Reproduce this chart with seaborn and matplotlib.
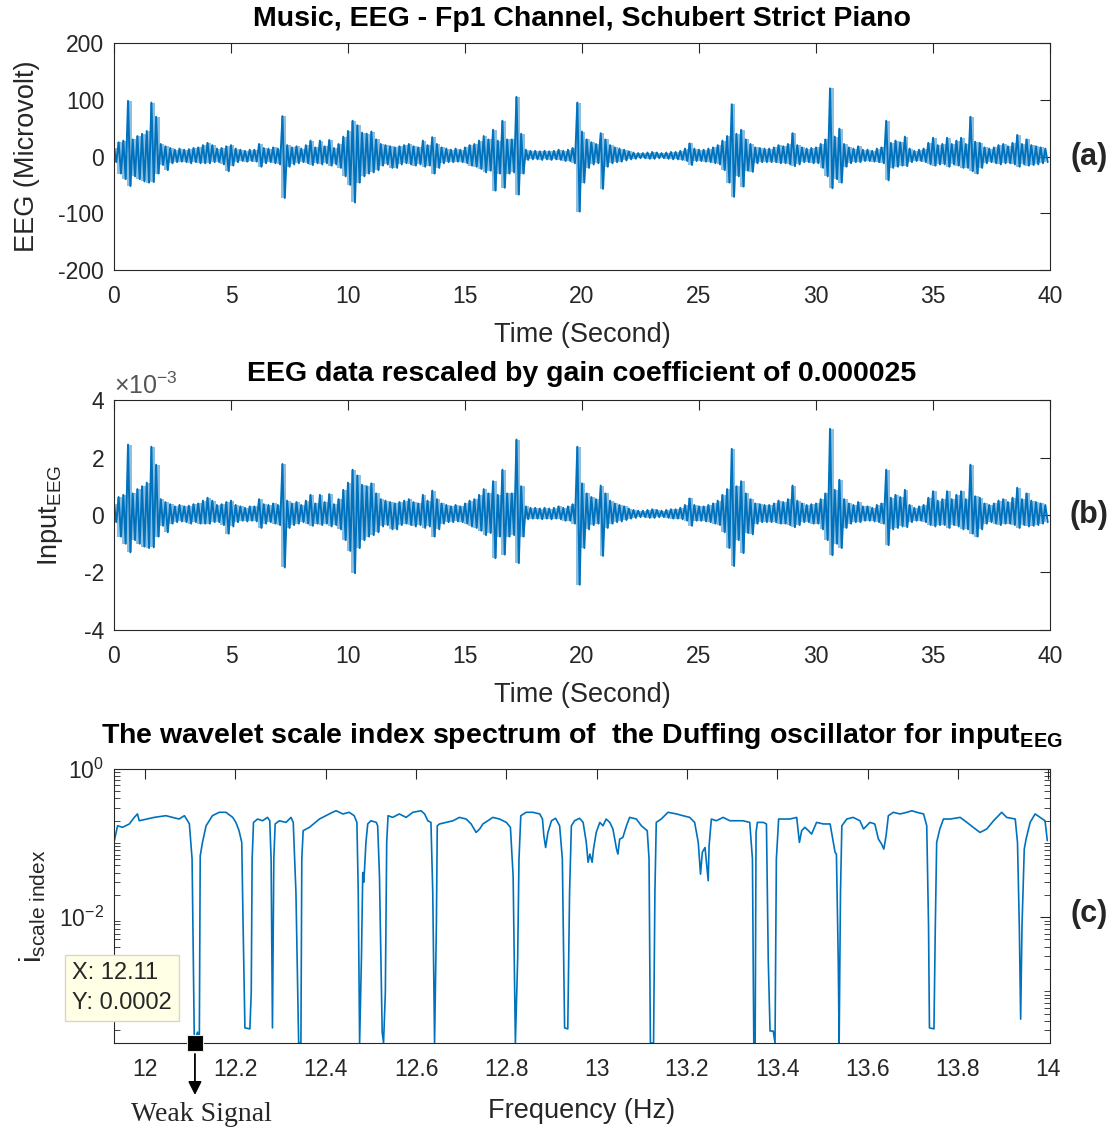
import numpy as np
import pandas as pd
import matplotlib
matplotlib.use("Agg")
import matplotlib.pyplot as plt
import matplotlib.ticker as mticker
import seaborn as sns

# EEG envelope (Fp1, Microvolt), one value per 0.2 s bin: upper and lower excursion
eeg_hi = [15, 25, 28, 98, 30, 36, 40, 45, 95, 70,
          22, 18, 15, 12, 14, 12, 13, 15, 16, 20,
          24, 20, 14, 15, 18, 20, 14, 12, 10, 12,
          12, 22, 15, 14, 16, 14, 71, 20, 16, 18,
          14, 20, 28, 16, 28, 18, 29, 15, 22, 35,
          45, 63, 55, 42, 40, 44, 30, 22, 20, 18,
          16, 18, 20, 22, 18, 16, 28, 20, 34, 22,
          16, 14, 12, 14, 12, 16, 20, 22, 28, 36,
          30, 47, 28, 63, 30, 30, 105, 40, 12, 10,
          10, 9, 10, 9, 10, 12, 10, 12, 15, 95,
          44, 30, 25, 22, 41, 30, 20, 16, 14, 12,
          9, 7, 6, 6, 7, 8, 7, 6, 7, 8,
          8, 10, 14, 23, 14, 12, 12, 14, 16, 20,
          28, 36, 92, 40, 47, 30, 22, 16, 15, 14,
          14, 16, 20, 18, 22, 41, 20, 16, 14, 15,
          16, 22, 30, 120, 35, 49, 22, 16, 14, 18,
          12, 12, 10, 14, 16, 63, 24, 28, 25, 35,
          14, 10, 12, 14, 24, 33, 20, 22, 33, 22,
          28, 33, 22, 70, 26, 24, 16, 14, 16, 20,
          22, 18, 24, 38, 22, 30, 20, 18, 16, 14]
eeg_lo = [-10, -30, -40, -52, -35, -40, -44, -46, -45, -30,
          -15, -24, -12, -10, -9, -10, -12, -10, -12, -12,
          -12, -10, -10, -14, -26, -16, -10, -8, -9, -8,
          -9, -18, -12, -10, -12, -14, -73, -18, -14, -12,
          -10, -12, -15, -12, -14, -12, -16, -14, -20, -35,
          -50, -81, -46, -35, -30, -28, -24, -16, -14, -20,
          -20, -14, -12, -14, -16, -14, -18, -16, -30, -20,
          -12, -10, -10, -9, -10, -12, -16, -18, -22, -28,
          -25, -60, -30, -55, -30, -28, -67, -30, -6, -5,
          -5, -6, -5, -6, -5, -6, -8, -8, -12, -97,
          -46, -20, -14, -12, -57, -18, -12, -10, -9, -7,
          -5, -4, -3, -3, -4, -4, -3, -3, -4, -5,
          -5, -6, -8, -15, -8, -8, -9, -10, -12, -14,
          -24, -46, -71, -35, -53, -25, -27, -12, -10, -10,
          -10, -10, -12, -12, -14, -17, -14, -10, -10, -12,
          -12, -20, -35, -56, -40, -46, -18, -12, -10, -10,
          -8, -8, -9, -10, -12, -42, -20, -18, -16, -17,
          -10, -8, -8, -10, -14, -16, -14, -14, -18, -14,
          -16, -20, -20, -26, -30, -20, -12, -10, -12, -14,
          -12, -12, -14, -18, -14, -16, -15, -14, -12, -10]
bin_sec = 0.2
gain = 0.000025

# wavelet scale index spectrum of the Duffing oscillator
wsi_freq = [11.931, 11.939, 11.950, 11.965, 11.976, 11.983, 11.987, 12.020, 12.046, 12.075,
            12.087, 12.094, 12.098, 12.104, 12.109, 12.116, 12.120, 12.122, 12.127, 12.135,
            12.149, 12.164, 12.179, 12.194, 12.201, 12.208, 12.214, 12.217, 12.221, 12.232,
            12.235, 12.237, 12.240, 12.249, 12.260, 12.271, 12.276, 12.279, 12.282, 12.285,
            12.288, 12.297, 12.312, 12.323, 12.328, 12.334, 12.340, 12.345, 12.347, 12.350,
            12.364, 12.386, 12.415, 12.423, 12.438, 12.452, 12.463, 12.469, 12.472, 12.475,
            12.479, 12.482, 12.484, 12.486, 12.489, 12.493, 12.500, 12.512, 12.515, 12.519,
            12.525, 12.528, 12.532, 12.535, 12.538, 12.548, 12.563, 12.578, 12.593, 12.611,
            12.619, 12.626, 12.633, 12.637, 12.641, 12.645, 12.647, 12.652, 12.667, 12.682,
            12.696, 12.711, 12.722, 12.733, 12.741, 12.748, 12.759, 12.770, 12.785, 12.800,
            12.809, 12.815, 12.820, 12.825, 12.828, 12.832, 12.844, 12.859, 12.874, 12.880,
            12.883, 12.887, 12.892, 12.900, 12.909, 12.918, 12.924, 12.929, 12.936, 12.940,
            12.944, 12.951, 12.962, 12.970, 12.977, 12.981, 12.985, 12.990, 12.993, 12.999,
            13.007, 13.014, 13.021, 13.029, 13.036, 13.044, 13.047, 13.051, 13.058, 13.066,
            13.073, 13.088, 13.099, 13.112, 13.116, 13.119, 13.126, 13.129, 13.132, 13.143,
            13.158, 13.177, 13.191, 13.206, 13.217, 13.225, 13.230, 13.234, 13.240, 13.247,
            13.249, 13.254, 13.265, 13.280, 13.295, 13.310, 13.324, 13.339, 13.345, 13.348,
            13.351, 13.353, 13.356, 13.369, 13.376, 13.380, 13.384, 13.391, 13.395, 13.398,
            13.403, 13.413, 13.428, 13.443, 13.449, 13.454, 13.461, 13.469, 13.476, 13.487,
            13.502, 13.517, 13.528, 13.531, 13.535, 13.537, 13.540, 13.543, 13.554, 13.568,
            13.583, 13.591, 13.598, 13.605, 13.616, 13.624, 13.631, 13.636, 13.641, 13.646,
            13.657, 13.672, 13.687, 13.698, 13.709, 13.724, 13.731, 13.735, 13.737, 13.747,
            13.750, 13.753, 13.760, 13.768, 13.783, 13.805, 13.820, 13.834, 13.849, 13.864,
            13.879, 13.897, 13.908, 13.927, 13.932, 13.936, 13.939, 13.942, 13.947, 13.951,
            13.960, 13.971, 13.982, 13.993, 13.998]
wsi_val = [0.102, 0.171, 0.163, 0.181, 0.222, 0.247, 0.200, 0.222, 0.234, 0.211,
           0.234, 0.200, 0.181, 0.061, 0.0002, 0.00028, 0.0002, 0.067, 0.102, 0.171,
           0.234, 0.260, 0.260, 0.222, 0.190, 0.147, 0.102, 0.0076, 0.00032, 0.00031,
           0.00096, 0.061, 0.190, 0.211, 0.200, 0.222, 0.200, 0.061, 0.00032, 0.061,
           0.181, 0.200, 0.190, 0.222, 0.190, 0.0216, 0.0002, 0.0002, 0.061, 0.147,
           0.163, 0.211, 0.260, 0.273, 0.247, 0.260, 0.234, 0.190, 0.0216, 0.0002,
           0.0027, 0.040, 0.0295, 0.045, 0.102, 0.181, 0.200, 0.190, 0.171, 0.036,
           0.00028, 0.0002, 0.00096, 0.102, 0.234, 0.222, 0.247, 0.222, 0.260, 0.273,
           0.247, 0.200, 0.190, 0.0216, 0.0002, 0.0076, 0.171, 0.181, 0.190, 0.200,
           0.222, 0.211, 0.181, 0.139, 0.155, 0.181, 0.200, 0.222, 0.211, 0.190,
           0.163, 0.036, 0.0002, 0.0027, 0.061, 0.234, 0.260, 0.260, 0.247, 0.211,
           0.126, 0.087, 0.139, 0.200, 0.216, 0.171, 0.061, 0.00032, 0.00031, 0.0216,
           0.171, 0.200, 0.216, 0.190, 0.102, 0.055, 0.071, 0.055, 0.083, 0.139,
           0.190, 0.171, 0.211, 0.190, 0.155, 0.083, 0.071, 0.113, 0.119, 0.171,
           0.222, 0.211, 0.171, 0.147, 0.061, 0.0002, 0.0002, 0.0216, 0.190, 0.211,
           0.260, 0.247, 0.234, 0.222, 0.190, 0.102, 0.038, 0.075, 0.087, 0.031,
           0.092, 0.211, 0.200, 0.222, 0.200, 0.200, 0.200, 0.190, 0.061, 0.0002,
           0.0002, 0.139, 0.190, 0.190, 0.181, 0.0027, 0.00029, 0.00029, 0.0002, 0.061,
           0.211, 0.211, 0.211, 0.222, 0.102, 0.147, 0.163, 0.147, 0.132, 0.190,
           0.181, 0.181, 0.075, 0.071, 0.0027, 0.0002, 0.0216, 0.171, 0.211, 0.222,
           0.200, 0.155, 0.171, 0.190, 0.181, 0.113, 0.097, 0.083, 0.126, 0.234,
           0.260, 0.247, 0.260, 0.273, 0.260, 0.247, 0.171, 0.0076, 0.00032, 0.00031,
           0.0076, 0.102, 0.155, 0.211, 0.211, 0.222, 0.190, 0.163, 0.139, 0.155,
           0.200, 0.260, 0.222, 0.211, 0.102, 0.0076, 0.00042, 0.0076, 0.083, 0.113,
           0.190, 0.247, 0.222, 0.200, 0.108]

tip_x, tip_y = 12.11, 0.0002
freq_ticks = [12, 12.2, 12.4, 12.6, 12.8, 13, 13.2, 13.4, 13.6, 13.8, 14]
freq_ticklabels = ["12", "12.2", "12.4", "12.6", "12.8", "13", "13.2", "13.4", "13.6", "13.8", "14"]

sns.set_theme(style="white")
plt.rcParams["font.family"] = ["Liberation Sans", "DejaVu Sans"]
plt.rcParams["mathtext.fontset"] = "custom"
plt.rcParams["mathtext.rm"] = "Liberation Sans"
plt.rcParams["mathtext.it"] = "Liberation Sans:italic"
plt.rcParams["mathtext.bf"] = "Liberation Sans:bold"
plt.rcParams["axes.unicode_minus"] = False

blue = "#0072BD"
dark = "#262626"
TICK = 16.5
LAB = 19.5
TTL = 20.5
TAG = 22

# zigzag between upper and lower excursion of each bin
eeg = np.ravel(np.column_stack([eeg_hi, eeg_lo]))
t = np.arange(len(eeg)) * bin_sec / 2
t_bin = np.arange(len(eeg_hi)) * bin_sec + bin_sec / 4
df_eeg = pd.DataFrame({"t": t, "eeg": eeg, "inp": eeg * gain})
df_wsi = pd.DataFrame({"f": wsi_freq, "v": wsi_val})

fig = plt.figure(figsize=(11.13, 11.30), dpi=100)
ax1 = fig.add_axes([0.1024, 0.761, 0.841, 0.201])
ax2 = fig.add_axes([0.1024, 0.4425, 0.841, 0.2035])
ax3 = fig.add_axes([0.1024, 0.077, 0.841, 0.2425])


def style_axis(ax):
    for s in ax.spines.values():
        s.set_color(dark)
        s.set_linewidth(0.8)
        s.set_visible(True)
    ax.tick_params(which="major", direction="in", top=True, right=True, length=7,
                   width=0.8, color=dark, labelcolor=dark, labelsize=TICK)
    ax.tick_params(axis="x", pad=11)
    ax.tick_params(axis="y", pad=7)


def eeg_panel(ax, col, scale):
    ax.fill_between(t_bin, np.array(eeg_lo) * scale, np.array(eeg_hi) * scale,
                    step="mid", color=blue, alpha=0.45, linewidth=0)
    sns.lineplot(data=df_eeg, x="t", y=col, ax=ax, color=blue, linewidth=1.4,
                 estimator=None, sort=False)
    ax.set_xlim(0, 40)
    ax.set_xticks(np.arange(0, 41, 5))
    style_axis(ax)
    ax.set_xlabel("Time (Second)", fontsize=LAB, color=dark, labelpad=10)


# (a) raw EEG
eeg_panel(ax1, "eeg", 1.0)
ax1.set_ylim(-200, 200)
ax1.set_yticks([-200, -100, 0, 100, 200])
ax1.set_ylabel("EEG (Microvolt)", fontsize=LAB, color=dark, labelpad=13)
ax1.set_title("Music, EEG - Fp1 Channel, Schubert Strict Piano", fontsize=TTL,
              fontweight="bold", color="black", pad=12)
ax1.text(1.042, 0.5, "(a)", transform=ax1.transAxes, fontsize=TAG, fontweight="bold",
         ha="center", va="center")

# (b) rescaled EEG
eeg_panel(ax2, "inp", gain)
ax2.set_ylim(-4e-3, 4e-3)
ax2.set_yticks([-4e-3, -2e-3, 0, 2e-3, 4e-3])
ax2.yaxis.set_major_formatter(mticker.FuncFormatter(lambda v, p: f"{v * 1e3:g}"))
ax2.text(0.0, 1.005, r"$\times10^{-3}$", transform=ax2.transAxes, fontsize=18,
         color="#555555", ha="left", va="bottom")
ax2.set_ylabel(r"Input$_{\mathrm{EEG}}$", fontsize=LAB, color=dark, labelpad=14)
ax2.set_title("EEG data rescaled by gain coefficient of 0.000025", fontsize=TTL,
              fontweight="bold", color="black", pad=14)
ax2.text(1.042, 0.5, "(b)", transform=ax2.transAxes, fontsize=TAG, fontweight="bold",
         ha="center", va="center")

# (c) wavelet scale index spectrum
sns.lineplot(data=df_wsi, x="f", y="v", ax=ax3, color=blue, linewidth=1.2,
             estimator=None, sort=False)
ax3.set_yscale("log")
ax3.set_xlim(11.931, 14.004)
ax3.set_ylim(2e-4, 1)
ax3.set_xticks(freq_ticks)
ax3.set_xticklabels(freq_ticklabels)
ax3.yaxis.set_major_locator(mticker.FixedLocator([1e-4, 1e-2, 1]))
ax3.yaxis.set_major_formatter(mticker.LogFormatterSciNotation())
ax3.yaxis.set_minor_locator(mticker.LogLocator(base=10, subs=np.arange(1, 10), numticks=20))
ax3.yaxis.set_minor_formatter(mticker.NullFormatter())
style_axis(ax3)
ax3.tick_params(axis="y", which="minor", direction="in", left=True, right=True,
                length=4, width=0.6, color=dark)
ax3.tick_params(axis="x", which="minor", bottom=False, top=False)
ax3.set_xlabel("Frequency (Hz)", fontsize=LAB, color=dark, labelpad=12)
ax3.set_ylabel(r"i$_{\mathrm{scale\ index}}$", fontsize=LAB + 2, color=dark, labelpad=8)
ax3.set_title(r"The wavelet scale index spectrum of  the Duffing oscillator for input$_{\mathbf{EEG}}$",
              fontsize=TTL, fontweight="bold", color="black", pad=19)
ax3.text(1.042, 0.47, "(c)", transform=ax3.transAxes, fontsize=TAG, fontweight="bold",
         ha="center", va="center")

# data tip and weak-signal marker
ax3.plot([tip_x], [tip_y], marker="s", markersize=11, color="black",
         markeredgecolor="#f2eec0", markeredgewidth=0.8, clip_on=False, zorder=5)
ax3.text(-0.045, 0.2, f"X: {tip_x}\nY: {tip_y}", transform=ax3.transAxes,
         fontsize=17, color=dark, ha="left", va="center", linespacing=1.45,
         bbox=dict(boxstyle="square,pad=0.3", facecolor="#ffffe6", edgecolor="#d8d8c4"),
         clip_on=False, zorder=6)
ax3.annotate("", xy=(0.0865, -0.2), xytext=(0.0865, -0.03),
             xycoords="axes fraction", textcoords="axes fraction",
             arrowprops=dict(arrowstyle="-|>", color="black", lw=1.3, mutation_scale=20))
ax3.text(0.093, -0.26, "Weak Signal", transform=ax3.transAxes, fontsize=20,
         family="Liberation Serif", ha="center", va="center", color=dark)

fig.savefig("out.png", dpi=100)
